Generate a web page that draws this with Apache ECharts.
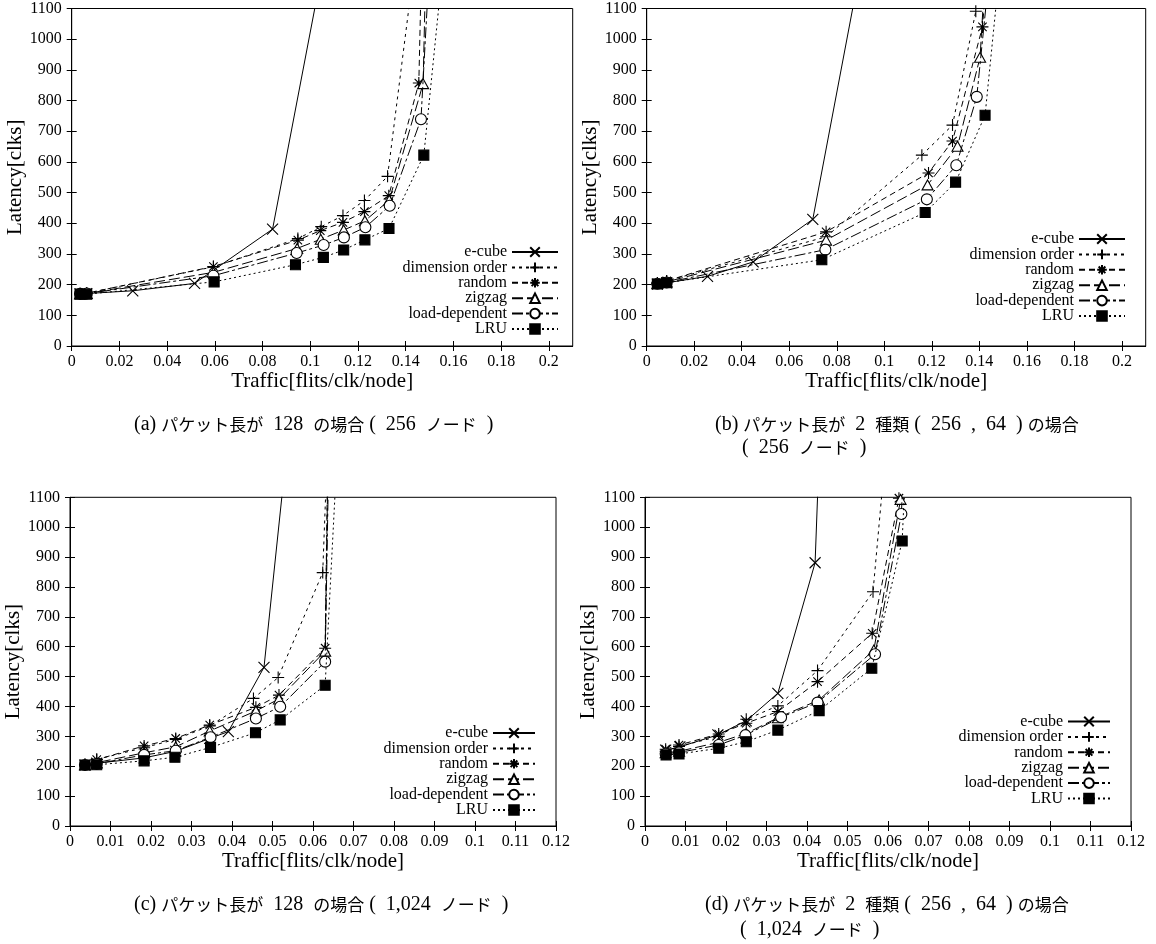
<!DOCTYPE html>
<html>
<head>
<meta charset="utf-8">
<script src="https://cdn.jsdelivr.net/npm/echarts@6/dist/echarts.min.js"></script>
<style>
  html, body { margin: 0; padding: 0; background: #fff; }
  #chart { width: 1156px; height: 944px; }
</style>
</head>
<body>
<div id="chart"></div>
<script>
// Routing algorithms compared in every panel (legend order)
const routingNames = ['e-cube', 'dimension order', 'random', 'zigzag', 'load-dependent', 'LRU'];

// Tick values
const xTicksWide = [0, 0.02, 0.04, 0.06, 0.08, 0.1, 0.12, 0.14, 0.16, 0.18, 0.2];
const xTicksNarrow = [0, 0.01, 0.02, 0.03, 0.04, 0.05, 0.06, 0.07, 0.08, 0.09, 0.1, 0.11, 0.12];
const yTicks = [0, 100, 200, 300, 400, 500, 600, 700, 800, 900, 1000, 1100];

// (a) packet length 128, 256 nodes  — [traffic, latency]
const a_ecube   = [[0.0035,170],[0.0063,171],[0.0256,180],[0.0515,204],[0.0842,381],[0.110,1430]];
const a_dim     = [[0.0035,170],[0.0063,172],[0.0594,258],[0.0948,350],[0.1046,389],[0.1137,425],[0.1227,474],[0.1324,553],[0.145,1327]];
const a_random  = [[0.0035,170],[0.0063,172],[0.0594,259],[0.0948,345],[0.1042,376],[0.1137,403],[0.1227,438],[0.1329,490],[0.1455,857],[0.1468,1300]];
const a_zigzag  = [[0.0035,170],[0.0063,171],[0.0594,240],[0.0945,318],[0.1044,348],[0.114,378],[0.1229,408],[0.1331,475],[0.1473,855],[0.1486,1300]];
const a_load    = [[0.0035,170],[0.0063,171],[0.0594,229],[0.0943,303],[0.1056,329],[0.1141,354],[0.1231,387],[0.1333,457],[0.1464,739],[0.1505,1320]];
const a_lru     = [[0.0035,169],[0.0063,169],[0.0597,209],[0.0938,265],[0.1055,289],[0.114,313],[0.1229,346],[0.133,383],[0.1476,622],[0.156,1270]];

// (b) two packet lengths (256, 64), 256 nodes
const b_ecube   = [[0.0045,202],[0.0084,206],[0.0256,227],[0.0448,274],[0.0699,413],[0.095,1440]];
const b_dim     = [[0.0045,205],[0.0084,212],[0.0755,356],[0.1158,622],[0.1287,720],[0.1385,1091],[0.1395,1400]];
const b_random  = [[0.0045,205],[0.0084,212],[0.0755,372],[0.1186,564],[0.1287,668],[0.1413,1040],[0.1435,1250]];
const b_zigzag  = [[0.0045,204],[0.0084,209],[0.0755,345],[0.1182,525],[0.1308,651],[0.1403,941],[0.1425,1232]];
const b_load    = [[0.0045,203],[0.0084,207],[0.0752,314],[0.1179,478],[0.1303,589],[0.1389,812],[0.1445,1240]];
const b_lru     = [[0.0045,202],[0.0084,206],[0.0737,281],[0.1172,435],[0.13,534],[0.1424,752],[0.149,1262]];

// (c) packet length 128, 1,024 nodes
const c_ecube   = [[0.0037,204],[0.0066,210],[0.0183,228],[0.0261,250],[0.0345,293],[0.0391,316],[0.0479,531],[0.054,1320]];
const c_dim     = [[0.0037,206],[0.0066,223],[0.0183,262],[0.0261,290],[0.0345,335],[0.0453,427],[0.0514,497],[0.0624,848],[0.064,1424]];
const c_random  = [[0.0037,206],[0.0066,222],[0.0183,268],[0.0261,293],[0.0345,338],[0.0459,397],[0.0516,438],[0.063,595],[0.0638,1400]];
const c_zigzag  = [[0.0037,205],[0.0066,212],[0.0183,245],[0.0261,265],[0.0345,318],[0.0459,385],[0.0516,425],[0.063,585],[0.0639,1400]];
const c_load    = [[0.0037,204],[0.0066,208],[0.0183,238],[0.0261,252],[0.0347,297],[0.0459,360],[0.0519,399],[0.063,550],[0.0641,1400]];
const c_lru     = [[0.0037,204],[0.0066,205],[0.0183,218],[0.0259,230],[0.0347,263],[0.0458,312],[0.0519,355],[0.063,471],[0.066,1257]];

// (d) two packet lengths (256, 64), 1,024 nodes
const d_ecube   = [[0.0051,254],[0.0086,265],[0.018,305],[0.025,352],[0.0328,444],[0.042,881],[0.0435,1428]];
const d_dim     = [[0.0051,250],[0.0084,266],[0.0182,300],[0.025,357],[0.0328,402],[0.0426,520],[0.0563,784],[0.0592,1219]];
const d_random  = [[0.0051,257],[0.0084,271],[0.0182,308],[0.025,344],[0.0328,383],[0.0426,483],[0.0561,645],[0.0627,1097],[0.0635,1400]];
const d_zigzag  = [[0.0051,245],[0.0084,250],[0.0182,280],[0.025,310],[0.0328,362],[0.043,422],[0.0565,589],[0.0631,1093],[0.064,1400]];
const d_load    = [[0.0051,242],[0.0084,246],[0.0182,271],[0.0248,304],[0.0336,364],[0.0426,413],[0.0568,575],[0.0633,1044],[0.0645,1400]];
const d_lru     = [[0.0052,238],[0.0084,241],[0.0182,260],[0.025,282],[0.0328,321],[0.043,386],[0.056,528],[0.0635,954],[0.0648,1350]];

const panelSeries = [
  [a_ecube, a_dim, a_random, a_zigzag, a_load, a_lru],
  [b_ecube, b_dim, b_random, b_zigzag, b_load, b_lru],
  [c_ecube, c_dim, c_random, c_zigzag, c_load, c_lru],
  [d_ecube, d_dim, d_random, d_zigzag, d_load, d_lru]
];

// Captions under each panel ({j|...} marks Japanese runs)
const captions = [
  ['(a) {j|パケット長が}  128  {j|の場合} (  256  {j|ノード}  )'],
  ['(b) {j|パケット長が}  2  {j|種類} (  256  ,  64  ) {j|の場合}', '(  256  {j|ノード}  )'],
  ['(c) {j|パケット長が}  128  {j|の場合} (  1,024  {j|ノード}  )'],
  ['(d) {j|パケット長が}  2  {j|種類} (  256  ,  64  ) {j|の場合}', '(  1,024  {j|ノード}  )']
];

const SERIF = '"Liberation Serif", "Times New Roman", serif';
const CJK = '"Noto Sans CJK JP", sans-serif';

// point and line styles per routing algorithm
const markStyles = [
  { symbol: 'path://M0,0L10,10M10,0L0,10', size: 11, fill: '#000', dash: 'solid' },
  { symbol: 'path://M5,0L5,10M0,5L10,5', size: 12, fill: '#000', dash: [3, 4] },
  { symbol: 'path://M5,0L5,10M0,5L10,5M1.5,1.5L8.5,8.5M8.5,1.5L1.5,8.5', size: 12, fill: '#000', dash: [6, 4] },
  { symbol: 'path://M5,0L10,9L0,9Z', size: 11, fill: '#fff', dash: [11, 4] },
  { symbol: 'path://M5,0A5,5,0,1,1,4.999,0Z', size: 11, fill: '#fff', dash: [11, 3, 3, 3] },
  { symbol: 'rect', size: 10, fill: '#000', dash: [2, 3] }
];

// panel geometry: plot rectangles in px
const panels = [
  { left: 71.7, top: 8.5, width: 501, height: 337.5, xmax: 0.21, ticks: xTicksWide,
    legend: { right: 597, top: 244, itemWidth: 46 } },
  { left: 646.7, top: 8.5, width: 499, height: 337.5, xmax: 0.21, ticks: xTicksWide,
    legend: { right: 30, top: 231, itemWidth: 46 } },
  { left: 70, top: 497.3, width: 486, height: 328.7, xmax: 0.12, ticks: xTicksNarrow,
    legend: { right: 620, top: 725, itemWidth: 42 } },
  { left: 645, top: 497.3, width: 486, height: 328.7, xmax: 0.12, ticks: xTicksNarrow,
    legend: { right: 45, top: 713.5, itemWidth: 42 } }
];

const grids = [], xAxes = [], yAxes = [], series = [], legends = [], graphics = [];

const tickStyle = { show: true, inside: true, length: 5, lineStyle: { color: '#000', width: 1 } };
const labelStyle = { color: '#000', fontFamily: SERIF, fontSize: 16 };

panels.forEach((p) => {
  grids.push({ left: p.left, top: p.top, width: p.width, height: p.height,
    show: true, borderColor: '#000', borderWidth: 1, backgroundColor: 'transparent' });
});

// primary axes
panels.forEach((p, i) => {
  xAxes.push({
    type: 'value', gridIndex: i, min: 0, max: p.xmax, position: 'bottom',
    splitLine: { show: false },
    axisLine: { show: true, lineStyle: { color: '#000', width: 1 } },
    axisTick: Object.assign({ customValues: p.ticks }, tickStyle),
    axisLabel: Object.assign({ customValues: p.ticks, margin: 8, formatter: v => String(v) }, labelStyle),
    name: 'Traffic[flits/clk/node]', nameLocation: 'middle', nameGap: 25,
    nameTextStyle: { color: '#000', fontFamily: SERIF, fontSize: 21 }
  });
  yAxes.push({
    type: 'value', gridIndex: i, min: 0, max: 1100, position: 'left',
    splitLine: { show: false },
    axisLine: { show: true, lineStyle: { color: '#000', width: 1 } },
    axisTick: Object.assign({ customValues: yTicks }, tickStyle),
    axisLabel: Object.assign({ customValues: yTicks, margin: 10, formatter: v => String(v) }, labelStyle),
    name: 'Latency[clks]', nameLocation: 'middle', nameGap: 40,
    nameTextStyle: { color: '#000', fontFamily: SERIF, fontSize: 21 }
  });
});
// mirrored ticks on the top and right borders
panels.forEach((p, i) => {
  xAxes.push({
    type: 'value', gridIndex: i, min: 0, max: p.xmax, position: 'top',
    splitLine: { show: false }, axisLine: { show: false },
    axisTick: Object.assign({ customValues: p.ticks }, tickStyle),
    axisLabel: { show: false }
  });
  yAxes.push({
    type: 'value', gridIndex: i, min: 0, max: 1100, position: 'right',
    splitLine: { show: false }, axisLine: { show: false },
    axisTick: Object.assign({ customValues: yTicks }, tickStyle),
    axisLabel: { show: false }
  });
});

panelSeries.forEach((list, i) => {
  list.forEach((data, k) => {
    const st = markStyles[k];
    series.push({
      type: 'line', name: routingNames[k], data: data,
      xAxisIndex: i, yAxisIndex: i, clip: true,
      symbol: st.symbol, symbolSize: st.size, symbolKeepAspect: true, showAllSymbol: true,
      lineStyle: { color: '#000', width: 1, type: st.dash },
      itemStyle: { color: st.fill, borderColor: '#000', borderWidth: 1.1 },
      emphasis: { disabled: true },
      z: 2 + k
    });
  });
});

panels.forEach((p) => {
  legends.push({
    orient: 'vertical', align: 'right',
    right: p.legend.right, top: p.legend.top,
    itemWidth: p.legend.itemWidth, itemHeight: 12, itemGap: -0.6, padding: 0,
    selectedMode: false,
    data: routingNames,
    textStyle: { color: '#000', fontFamily: SERIF, fontSize: 16, lineHeight: 15 }
  });
});

// caption positions (left edge, vertical middle)
const captionPos = [
  [[134, 425]],
  [[715, 425], [742, 448]],
  [[134, 905]],
  [[705, 905], [740, 930]]
];
captions.forEach((lines, i) => {
  lines.forEach((t, j) => {
    graphics.push({
      type: 'text', x: captionPos[i][j][0], y: captionPos[i][j][1],
      style: {
        text: t, fill: '#000', fontFamily: SERIF, fontSize: 20,
        textAlign: 'left', textVerticalAlign: 'middle',
        rich: { j: { fontFamily: CJK, fontSize: 17, fill: '#000' } }
      }
    });
  });
});

const chart = echarts.init(document.getElementById('chart'), null, { renderer: 'canvas' });
chart.setOption({
  backgroundColor: '#fff',
  animation: false,
  grid: grids,
  xAxis: xAxes,
  yAxis: yAxes,
  legend: legends,
  series: series,
  graphic: { elements: graphics }
});
</script>
</body>
</html>
